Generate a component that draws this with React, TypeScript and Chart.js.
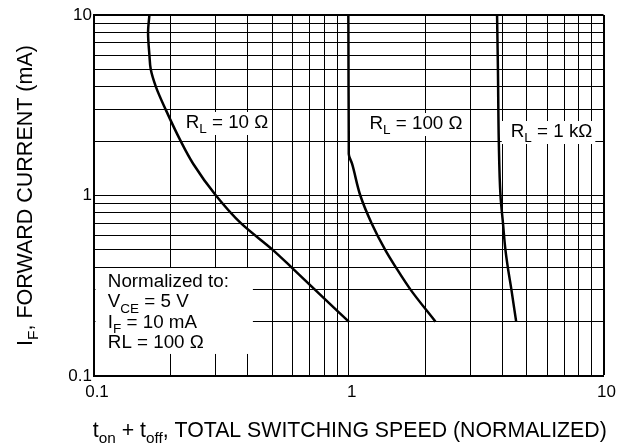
import { useEffect, useRef } from "react";
import { Chart, registerables } from "chart.js";

Chart.register(...registerables);

// ---- data ----
const gridValues = [0.1, 0.2, 0.3, 0.4, 0.5, 0.6, 0.7, 0.8, 0.9, 1, 2, 3, 4, 5, 6, 7, 8, 9, 10];
const tickLabels: Record<string, string> = { "0.1": "0.1", "1": "1", "10": "10" };

const rl10X = [0.165, 0.163, 0.165, 0.167, 0.175, 0.191, 0.219, 0.245, 0.301, 0.378, 0.503, 0.596, 0.738, 1.0];
const rl10Y = [10, 8, 6, 5, 4, 3, 2, 1.5, 1, 0.7, 0.5, 0.4, 0.3, 0.2];

const rl100X = [0.996, 0.997, 0.998, 1.0, 1.0, 1.03, 1.11, 1.23, 1.39, 1.53, 1.75, 2.19];
const rl100Y = [10, 7, 4, 2, 1.7, 1.5, 1, 0.7, 0.5, 0.4, 0.3, 0.2];

const rl1kX = [3.82, 3.85, 3.88, 3.94, 4.03, 4.12, 4.21, 4.35, 4.54];
const rl1kY = [10, 5, 2, 1, 0.7, 0.5, 0.4, 0.3, 0.2];

const curveLabels = ["R_{L} = 10 Ω", "R_{L} = 100 Ω", "R_{L} = 1 kΩ"];
const curveLabelX = [0.229, 1.206, 4.322];
const curveLabelY = [2.366, 2.335, 2.109];

const noteLines = ["Normalized to:", "V_{CE} = 5 V", "I_{F} = 10 mA", "RL = 100 Ω"];
const noteX = 0.1133;
const noteY = 0.311;

const xTitle = "t_{on} + t_{off}, TOTAL SWITCHING SPEED (NORMALIZED)";
const yTitle = "I_{F}, FORWARD CURRENT (mA)";

// ---- helpers ----
const FAMILY = '"Liberation Sans", Arial, Helvetica, sans-serif';

type Seg = { text: string; sub: boolean };
function parseRich(s: string): Seg[] {
  const out: Seg[] = [];
  const re = /_\{([^}]*)\}/g;
  let last = 0;
  let m: RegExpExecArray | null;
  while ((m = re.exec(s))) {
    if (m.index > last) out.push({ text: s.slice(last, m.index), sub: false });
    out.push({ text: m[1], sub: true });
    last = m.index + m[0].length;
  }
  if (last < s.length) out.push({ text: s.slice(last), sub: false });
  return out;
}
function richWidth(ctx: CanvasRenderingContext2D, s: string, size: number) {
  let w = 0;
  for (const seg of parseRich(s)) {
    ctx.font = `${seg.sub ? size * 0.72 : size}px ${FAMILY}`;
    w += ctx.measureText(seg.text).width;
  }
  return w;
}
function drawRich(ctx: CanvasRenderingContext2D, s: string, x: number, y: number, size: number) {
  let cx = x;
  ctx.textAlign = "left";
  ctx.textBaseline = "alphabetic";
  for (const seg of parseRich(s)) {
    const fs = seg.sub ? size * 0.72 : size;
    ctx.font = `${fs}px ${FAMILY}`;
    ctx.fillText(seg.text, cx, y + (seg.sub ? size * 0.28 : 0));
    cx += ctx.measureText(seg.text).width;
  }
  return cx - x;
}

const toPts = (xs: number[], ys: number[]) => xs.map((x, i) => ({ x, y: ys[i] }));

const annotationPlugin = {
  id: "annotations",
  beforeDatasetsDraw(chart: any) {
    const { ctx, chartArea, scales } = chart;
    const xs = scales.x;
    const ys = scales.y;
    ctx.save();
    const size = 18.8;
    curveLabels.forEach((t, i) => {
      const px = xs.getPixelForValue(curveLabelX[i]);
      const py = ys.getPixelForValue(curveLabelY[i]);
      const w = richWidth(ctx, t, size);
      ctx.fillStyle = "#fff";
      ctx.fillRect(px - 9, py - 16, w + 12, 23);
      ctx.fillStyle = "#000";
      drawRich(ctx, t, px, py, size);
    });
    const nx = xs.getPixelForValue(noteX);
    const ny = ys.getPixelForValue(noteY);
    const lh = 20.3;
    let maxW = 0;
    noteLines.forEach((t) => (maxW = Math.max(maxW, richWidth(ctx, t, size))));
    ctx.fillStyle = "#fff";
    const left = chartArea.left + 1.5;
    ctx.fillRect(left, ny - 19, nx + maxW + 24 - left, lh * (noteLines.length - 1) + 25);
    ctx.fillStyle = "#000";
    noteLines.forEach((t, i) => drawRich(ctx, t, nx, ny + i * lh, size));
    ctx.restore();
  },
  afterDraw(chart: any) {
    const { ctx, chartArea } = chart;
    ctx.save();
    ctx.fillStyle = "#000";
    const ts = 21.3;
    const wx = richWidth(ctx, xTitle, ts);
    drawRich(ctx, xTitle, (chartArea.left + chartArea.right) / 2 - wx / 2 + 1, 437, ts);
    const wy = richWidth(ctx, yTitle, 21.5);
    ctx.translate(32, (chartArea.top + chartArea.bottom) / 2);
    ctx.rotate(-Math.PI / 2);
    drawRich(ctx, yTitle, -wy / 2, 0, 21.5);
    ctx.restore();
  },
};

function logAxis(axis: "x" | "y") {
  return {
    type: "logarithmic" as const,
    min: 0.1,
    max: 10,
    afterBuildTicks: (scale: any) => {
      scale.ticks = gridValues.map((v) => ({ value: v }));
    },
    afterFit: (scale: any) => {
      if (axis === "x") scale.height = 67;
      else scale.width = 94;
    },
    ticks: {
      autoSkip: false,
      maxRotation: 0,
      minRotation: 0,
      color: "#000",
      font: { family: FAMILY, size: 17 },
      padding: axis === "x" ? 6 : 2,
      labelOffset: axis === "x" ? 3 : 0,
      callback: (v: any) => tickLabels[String(Number(v))] ?? "",
    },
    grid: {
      color: "#000",
      lineWidth: (c: any) => (c.tick && c.tick.value === 10 ? 2 : 1),
      drawTicks: false,
    },
    border: { display: true, color: "#000", width: 2 },
  };
}

export default function App() {
  const ref = useRef<HTMLCanvasElement | null>(null);
  useEffect(() => {
    if (!ref.current) return;
    const lineStyle = {
      borderColor: "#000",
      borderWidth: 2.5,
      pointRadius: 0,
      fill: false,
      cubicInterpolationMode: "monotone" as const,
    };
    const chart = new Chart(ref.current, {
      type: "line",
      data: {
        datasets: [
          { label: curveLabels[0], data: toPts(rl10X, rl10Y), ...lineStyle },
          { label: curveLabels[1], data: toPts(rl100X, rl100Y), ...lineStyle },
          { label: curveLabels[2], data: toPts(rl1kX, rl1kY), ...lineStyle },
        ],
      },
      options: {
        indexAxis: "y",
        animation: false,
        responsive: false,
        layout: { padding: { top: 15, right: 9, left: 0, bottom: 0 } },
        plugins: { legend: { display: false }, tooltip: { enabled: false }, title: { display: false } },
        scales: { x: logAxis("x"), y: logAxis("y") } as any,
      },
      plugins: [annotationPlugin],
    });
    return () => chart.destroy();
  }, []);
  return (
    <div style={{ position: "fixed", left: 0, top: 0, width: 619, height: 443, background: "#fff" }}>
      <canvas ref={ref} width={619} height={443} />
    </div>
  );
}
